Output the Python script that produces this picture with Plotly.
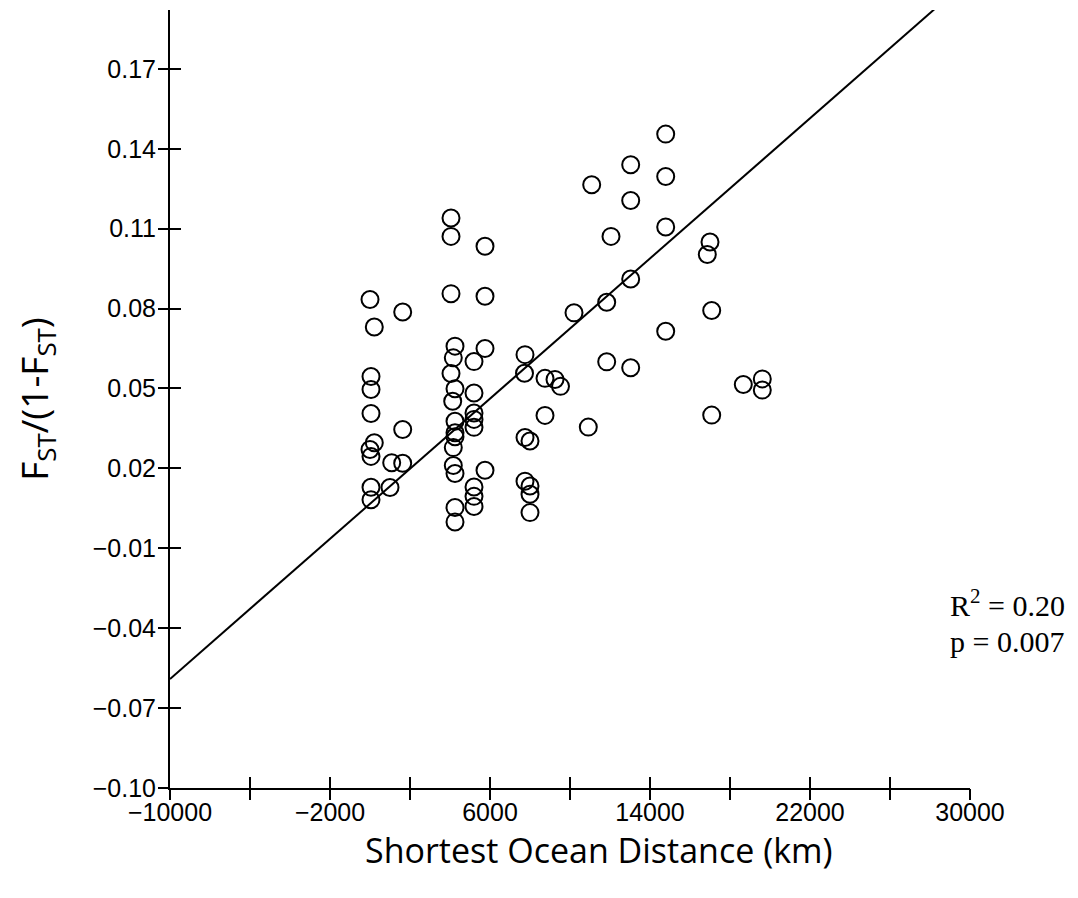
import plotly.graph_objects as go

# Shortest ocean distance (km) and FST/(1-FST) values
distance_km = [
    0, 215, 1635, 50, 50, 50, 1635, 215, 0, 50, 1085, 1635, 50, 1000, 50,
    4050, 4050, 4050, 4250, 4165, 4050, 4250, 4135, 4250, 4250, 4250, 4165, 4165, 4250, 4250, 4250,
    5200, 5200, 5200, 5200, 5200, 5200, 5200, 5200,
    5750, 5750, 5750, 5750,
    7750, 7725, 7750, 8000, 7750, 8000, 8000, 8000,
    8750, 9250, 9525, 8750, 10200, 10915, 11085, 11835, 11835, 12050,
    13035, 13035, 13035, 13035, 14785, 14785, 14785, 14785,
    17000, 16865, 17085, 17085, 18665, 19615, 19615,
]
fst_ratio = [
    0.0834, 0.0731, 0.0787, 0.0545, 0.0496, 0.0406, 0.0346, 0.0296, 0.0271, 0.0245, 0.0221, 0.0219, 0.0129, 0.0128, 0.0082,
    0.1140, 0.1071, 0.0856, 0.0659, 0.0615, 0.0556, 0.0499, 0.0452, 0.0377, 0.0334, 0.0319, 0.0278, 0.0211, 0.0181, 0.0053, -0.0001,
    0.0601, 0.0483, 0.0408, 0.0384, 0.0354, 0.0130, 0.0095, 0.0057,
    0.1034, 0.0846, 0.0650, 0.0193,
    0.0627, 0.0557, 0.0316, 0.0303, 0.0152, 0.0134, 0.0103, 0.0034,
    0.0538, 0.0534, 0.0508, 0.0399, 0.0784, 0.0355, 0.1265, 0.0824, 0.0600, 0.1071,
    0.1340, 0.1206, 0.0911, 0.0578, 0.1455, 0.1296, 0.1106, 0.0715,
    0.1050, 0.1003, 0.0793, 0.0400, 0.0515, 0.0536, 0.0494,
]

# Regression line as drawn (slope per km, intercept)
fit_slope = 6.58e-6
fit_intercept = 0.0067

# Axis ticks and labels
x_range = [-10000, 30000]
y_range = [-0.10, 0.1921]
x_tick_all = [-10000, -6000, -2000, 2000, 6000, 10000, 14000, 18000, 22000, 26000, 30000]
x_label_vals = [-10000, -2000, 6000, 14000, 22000, 30000]
x_label_text = ["−10000", "−2000", "6000", "14000", "22000", "30000"]
y_tickvals = [-0.10, -0.07, -0.04, -0.01, 0.02, 0.05, 0.08, 0.11, 0.14, 0.17]
y_ticktext = ["−0.10", "−0.07", "−0.04", "−0.01", "0.02", "0.05", "0.08", "0.11", "0.14", "0.17"]

x_title = "Shortest Ocean Distance (km)"
y_title = "F<sub>ST</sub>/(1-F<sub>ST</sub>)"
r2_text = "R<sup>2</sup> = 0.20"
p_text = "p = 0.007"

fit_x = x_range
fit_y = [fit_intercept + fit_slope * v for v in fit_x]

fig = go.Figure()
fig.add_trace(go.Scatter(
    x=fit_x, y=fit_y, mode="lines",
    line=dict(color="black", width=2), showlegend=False, hoverinfo="skip",
))
fig.add_trace(go.Scatter(
    x=distance_km, y=fst_ratio, mode="markers",
    marker=dict(symbol="circle-open", size=17, color="black", line=dict(width=2)),
    showlegend=False,
))
# invisible trace anchoring the overlay axes that draw the outer half of the crossing ticks
fig.add_trace(go.Scatter(x=[x_range[0]], y=[y_range[0]], xaxis="x2", yaxis="y2",
                         mode="markers", marker=dict(opacity=0), showlegend=False, hoverinfo="skip"))

tick_font = dict(family="Liberation Sans, Arial, sans-serif", size=25, color="black")
x_title_font = dict(family="Open Sans, sans-serif", size=34, color="black")
y_title_font = dict(family="Open Sans, sans-serif", size=37, color="black")
note_font = dict(family="Liberation Serif, Times New Roman, serif", size=30, color="black")

tick_style = dict(ticklen=11, tickwidth=2, tickcolor="black")

fig.update_layout(
    width=1078, height=898,
    margin=dict(l=162, r=116, t=2, b=118),
    paper_bgcolor="white", plot_bgcolor="white",
    xaxis=dict(
        range=x_range, tickmode="array", tickvals=x_label_vals, ticktext=x_label_text,
        ticks="inside", **tick_style,
        minor=dict(tickvals=x_tick_all, ticks="inside", **tick_style),
        ticklabelstandoff=1,
        showline=True, linecolor="black", linewidth=2, showgrid=False, zeroline=False,
        tickfont=tick_font,
    ),
    yaxis=dict(
        range=y_range, tickmode="array", tickvals=y_tickvals, ticktext=y_ticktext,
        ticks="inside", **tick_style,
        ticklabelstandoff=7,
        showline=True, linecolor="black", linewidth=2, showgrid=False, zeroline=False,
        tickfont=tick_font,
        title=dict(text=y_title, font=y_title_font, standoff=42),
    ),
    xaxis2=dict(
        range=x_range, overlaying="x", anchor="y2", side="bottom",
        tickmode="array", tickvals=x_tick_all, showticklabels=False,
        ticks="outside", **tick_style,
        showline=False, showgrid=False, zeroline=False,
    ),
    yaxis2=dict(
        range=y_range, overlaying="y", anchor="x2", side="left",
        tickmode="array", tickvals=y_tickvals, showticklabels=False,
        ticks="outside", **tick_style,
        showline=False, showgrid=False, zeroline=False,
    ),
    annotations=[
        dict(text=x_title, xref="paper", yref="paper", x=0.536, y=-0.08,
             xanchor="center", yanchor="middle", showarrow=False, font=x_title_font),
        dict(text=r2_text, xref="paper", yref="paper", x=0.9725, y=0.238,
             xanchor="left", yanchor="middle", showarrow=False, font=note_font),
        dict(text=p_text, xref="paper", yref="paper", x=0.9725, y=0.188,
             xanchor="left", yanchor="middle", showarrow=False, font=note_font),
    ],
)

fig.write_html("out.html")
